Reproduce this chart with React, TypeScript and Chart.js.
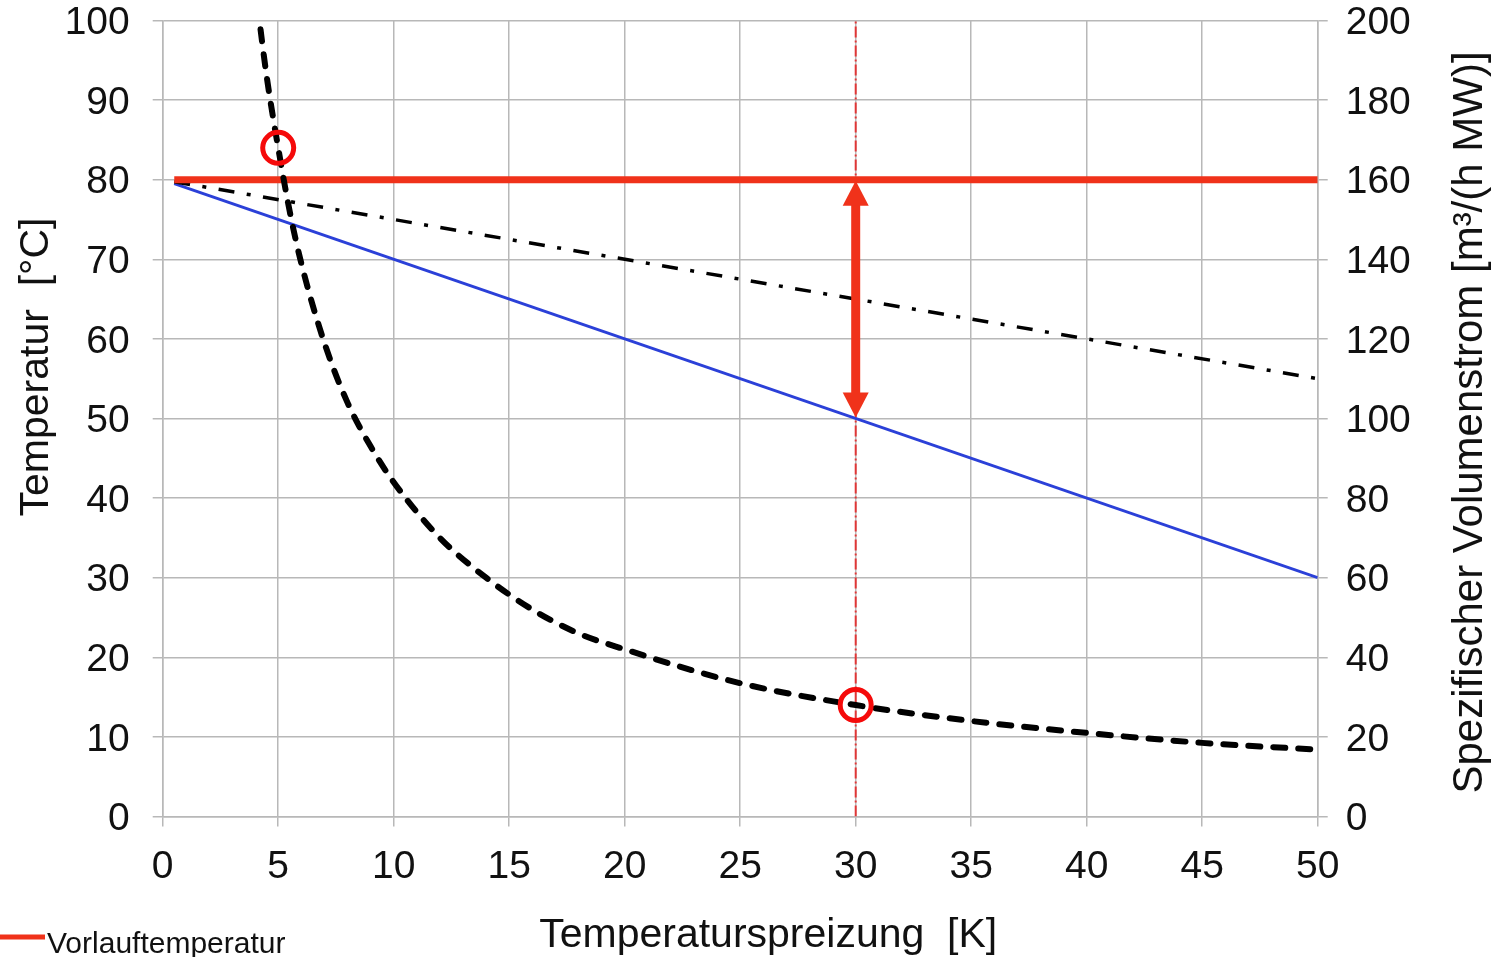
import { useEffect, useRef } from "react";
import { Chart, registerables } from "chart.js";

Chart.register(...registerables);

// ---- data ----
const spreizung = [0.5, 50]; // Temperaturspreizung [K]
const vorlauf = [80, 80]; // Vorlauftemperatur [°C]
const ruecklauf = [79.5, 30]; // Rücklauftemperatur [°C]
const mittel = [79.75, 55]; // mittlere Temperatur [°C]
const kurveX = [4.1, 4.5, 5, 5.5, 6, 7, 8, 9, 10, 12, 14, 16, 18, 20, 25, 30, 35, 40, 45, 50];
const volumenstrom = [204, 186, 168, 152, 139, 119, 104, 93, 84, 70, 60, 52, 46, 42, 33.5, 28, 24, 21, 18.5, 16.8];
const markerX = [5, 30];
const markerY = [168, 28]; // on right axis
const auslegungX = [30, 30];
const auslegungY = [0, 100];
const pfeilX = 30;
const pfeilVon = 80;
const pfeilBis = 50;

const legendLabel = "Vorlauftemperatur";
const xTitle = "Temperaturspreizung  [K]";
const yTitle = "Temperatur  [°C]";
const y1Title = "Spezifischer Volumenstrom [m³/(h MW)]";

const RED = "#f0321a";
const BLUE = "#2b40d8";
const GRID = "#b8b8b8";
const TEXT = "#111111";
const FONT = "'Liberation Sans', Arial, Helvetica, sans-serif";

const pts = (xs: number[], ys: number[]) => xs.map((x, i) => ({ x, y: ys[i] }));

const overlay = {
  id: "overlay",
  afterDatasetsDraw(chart: any) {
    const { ctx, scales } = chart;
    const x = scales.x;
    const y = scales.y;
    const px = x.getPixelForValue(pfeilX);
    const top = y.getPixelForValue(pfeilVon);
    const bot = y.getPixelForValue(pfeilBis);
    const headL = 26;
    const headW = 13;
    ctx.save();
    ctx.fillStyle = RED;
    ctx.strokeStyle = RED;
    ctx.lineWidth = 9;
    ctx.lineCap = "butt";
    ctx.beginPath();
    ctx.moveTo(px, top + headL - 2);
    ctx.lineTo(px, bot - headL + 2);
    ctx.stroke();
    ctx.beginPath();
    ctx.moveTo(px, top + 1);
    ctx.lineTo(px - headW, top + headL);
    ctx.lineTo(px + headW, top + headL);
    ctx.closePath();
    ctx.fill();
    ctx.beginPath();
    ctx.moveTo(px, bot - 1);
    ctx.lineTo(px - headW, bot - headL);
    ctx.lineTo(px + headW, bot - headL);
    ctx.closePath();
    ctx.fill();
    ctx.restore();
  },
  afterDraw(chart: any) {
    const { ctx, chartArea } = chart;
    ctx.save();
    ctx.fillStyle = TEXT;
    // x title
    ctx.font = `41px ${FONT}`;
    ctx.textAlign = "center";
    ctx.textBaseline = "alphabetic";
    ctx.fillText(xTitle, (chartArea.left + chartArea.right) / 2 + 28, 947);
    // left title
    ctx.save();
    ctx.translate(48, 367);
    ctx.rotate(-Math.PI / 2);
    ctx.fillText(yTitle, 0, 0);
    ctx.restore();
    // right title
    ctx.save();
    ctx.font = `42px ${FONT}`;
    ctx.translate(1482, (chartArea.top + chartArea.bottom) / 2 + 4);
    ctx.rotate(-Math.PI / 2);
    ctx.fillText(y1Title, 0, 0);
    ctx.restore();
    // legend
    ctx.strokeStyle = RED;
    ctx.lineWidth = 5;
    ctx.beginPath();
    ctx.moveTo(0, 937);
    ctx.lineTo(45, 937);
    ctx.stroke();
    ctx.font = `30px ${FONT}`;
    ctx.textAlign = "left";
    ctx.fillText(legendLabel, 47, 953);
    ctx.restore();
  },
};

export default function App() {
  const ref = useRef<HTMLCanvasElement | null>(null);

  useEffect(() => {
    if (!ref.current) return;
    const tickFont = { family: FONT, size: 39 };
    const chart = new Chart(ref.current, {
      type: "scatter",
      data: {
        datasets: [
          {
            label: "Markierung",
            data: pts(markerX, markerY),
            yAxisID: "y1",
            showLine: false,
            pointRadius: 15.5,
            pointHoverRadius: 15.5,
            pointBorderWidth: 5,
            pointBorderColor: "#f50a0a",
            pointBackgroundColor: "rgba(0,0,0,0)",
            order: 0,
          },
          {
            label: "Spezifischer Volumenstrom",
            data: pts(kurveX, volumenstrom),
            yAxisID: "y1",
            showLine: true,
            borderColor: "#000000",
            borderWidth: 6,
            borderDash: [12, 13],
            borderCapStyle: "round",
            cubicInterpolationMode: "monotone",
            pointRadius: 0,
            clip: 0,
            order: 1,
          },
          {
            label: legendLabel,
            data: pts(spreizung, vorlauf),
            yAxisID: "y",
            showLine: true,
            borderColor: RED,
            borderWidth: 7,
            borderCapStyle: "butt",
            pointRadius: 0,
            order: 2,
          },
          {
            label: "Mittlere Temperatur",
            data: pts(spreizung, mittel),
            yAxisID: "y",
            showLine: true,
            borderColor: "#000000",
            borderWidth: 3.5,
            borderDash: [16, 12.5, 4, 12.5],
            pointRadius: 0,
            order: 3,
          },
          {
            label: "Rücklauftemperatur",
            data: pts(spreizung, ruecklauf),
            yAxisID: "y",
            showLine: true,
            borderColor: BLUE,
            borderWidth: 3,
            pointRadius: 0,
            order: 4,
          },
          {
            label: "Auslegung",
            data: pts(auslegungX, auslegungY),
            yAxisID: "y",
            showLine: true,
            borderColor: "rgba(228,40,40,0.9)",
            borderWidth: 2,
            borderDash: [11, 3, 2, 3],
            pointRadius: 0,
            order: 5,
          },
        ],
      },
      options: {
        animation: false,
        responsive: false,
        maintainAspectRatio: false,
        layout: { padding: { top: 19.5, left: 0, right: 0, bottom: 0 } },
        plugins: { legend: { display: false }, tooltip: { enabled: false } },
        scales: {
          x: {
            type: "linear",
            min: 0,
            max: 50,
            ticks: { stepSize: 5, font: tickFont, color: TEXT, padding: 17 },
            grid: { color: GRID, lineWidth: 1.5, tickLength: 10 },
            border: { color: GRID, width: 1.5 },
            afterFit: (s: any) => {
              s.height = 140.5;
              s.paddingLeft = 0;
              s.paddingRight = 0;
            },
          },
          y: {
            type: "linear",
            position: "left",
            min: 0,
            max: 100,
            ticks: { stepSize: 10, font: tickFont, color: TEXT, padding: 23, labelOffset: 3 },
            grid: { color: GRID, lineWidth: 1.5, tickLength: 10 },
            border: { color: GRID, width: 1.5 },
            afterFit: (s: any) => {
              s.width = 162.7;
              s.paddingTop = 0;
              s.paddingBottom = 0;
            },
          },
          y1: {
            type: "linear",
            position: "right",
            min: 0,
            max: 200,
            ticks: { stepSize: 20, font: tickFont, color: TEXT, padding: 18, labelOffset: 3 },
            grid: { color: GRID, lineWidth: 1.5, tickLength: 10, drawOnChartArea: false },
            border: { color: GRID, width: 1.5 },
            afterFit: (s: any) => {
              s.width = 176.3;
              s.paddingTop = 0;
              s.paddingBottom = 0;
            },
          },
        },
      },
      plugins: [overlay],
    } as any);
    return () => chart.destroy();
  }, []);

  return (
    <div style={{ position: "absolute", left: 0, top: 0, width: 1494, height: 957, background: "#ffffff" }}>
      <canvas ref={ref} width={1494} height={957} style={{ display: "block" }} />
    </div>
  );
}
